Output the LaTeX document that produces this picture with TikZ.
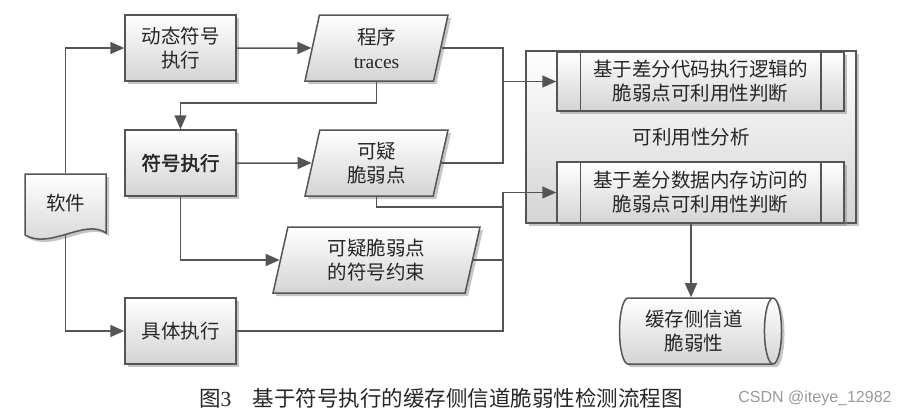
\documentclass[tikz,border=0pt]{standalone}
\usepackage{fontspec}
\setmainfont{Liberation Serif}
\newfontfamily\cjk{Noto Sans CJK SC}[AutoFakeBold=2]
\newfontfamily\wmfont{Liberation Sans}
\usetikzlibrary{arrows.meta,shapes.geometric,shadows}
\definecolor{lncol}{HTML}{555555}
\tikzset{
  base/.style={draw=lncol,line width=1.5pt,top color=white,bottom color=black!17,
    drop shadow={shadow xshift=3pt,shadow yshift=-3pt,fill=black!45},
    align=center,text=black!85,font=\cjk\fontsize{19.5}{24}\selectfont},
  proc/.style={base,minimum width=111pt,minimum height=66pt},
  io/.style={base,trapezium,trapezium left angle=73,trapezium right angle=107,
    trapezium stretches body=true,minimum height=66pt,minimum width=143pt},
  sub/.style={base,minimum width=287pt,inner sep=0pt},
  ln/.style={draw=lncol,line width=1.5pt}
}
\begin{document}
\begin{tikzpicture}[x=1pt,y=-1pt,>={Triangle[length=14pt,width=12pt]},every path/.style={line width=1.5pt},color=lncol]
\useasboundingbox (0,0) rectangle (909,415);
% software document
\draw[base] (25,174) -- (106,174) -- (106,233) .. controls (85,218) and (50,250) .. (25,235) -- cycle;
\node[minimum width=81pt,minimum height=58pt,text=black!85,font=\cjk\fontsize{19.5}{24}\selectfont] (soft) at (65.5,203) {软件};
\coordinate (softb) at (65.5,234);
\node[proc] (dyn) at (180.5,48) {动态符号\\执行};
\node[io] (trc) at (376.5,48) {程序\\{\rmfamily traces}};
\node[proc,font=\cjk\bfseries\fontsize{19.5}{24}\selectfont] (sym) at (180.5,163) {符号执行};
\node[io] (sus) at (376.5,163) {可疑\\脆弱点};
\node[io,minimum width=207pt] (con) at (376.5,260) {可疑脆弱点\\的符号约束};
\node[proc] (conc) at (180.5,331) {具体执行};
% analysis block
\node[base,minimum width=330pt,minimum height=172pt] (ana) at (691,137) {可利用性分析};
\node[sub,minimum height=59pt] (box1) at (700.5,81.5) {基于差分代码执行逻辑的\\脆弱点可利用性判断};
\node[sub,minimum height=61pt] (box2) at (700.5,192.5) {基于差分数据内存访问的\\脆弱点可利用性判断};
\foreach \b in {box1,box2}{
  \draw[ln] ([xshift=24pt]\b.north west) -- ([xshift=24pt]\b.south west);
  \draw[ln] ([xshift=-24pt]\b.north east) -- ([xshift=-24pt]\b.south east);
}
\node[base,cylinder,shape aspect=0.35,minimum width=66pt,minimum height=162pt] (cyl) at (694,331) {缓存侧信道\\脆弱性};
% connectors
\draw[->] (soft.north) |- (dyn.west);
\draw[->] (softb) |- (conc.west);
\draw[->] (dyn) -- (trc);
\draw[->] (trc.south) -- ++(0,21) -| (sym.north);
\draw[->] (sym) -- (sus);
\draw[->] (sym.south) |- (con.west);
\coordinate (xa) at (503,207);
\draw (trc.east) -| (sus.east -| xa) -- (sus.east);
\draw[->] (box1.west -| xa) -- (box1.west);
\draw (sus.south) |- (xa);
\draw[->] (conc.east) -| (box2.west -| xa) -- (box2.west);
\draw (con.east) -- (con.east -| xa);
\draw[->] (ana.south) -- (ana.south |- cyl.north);
% caption
\node[font=\cjk\fontsize{21.5}{24}\selectfont,text=black!85] (cap) at (441,398) {图{\rmfamily 3}\quad 基于符号执行的缓存侧信道脆弱性检测流程图};
\node[font=\wmfont\fontsize{16}{18}\selectfont,text=black!40] (wm) at (815,398) {CSDN @iteye\_12982};
\end{tikzpicture}
\end{document}
